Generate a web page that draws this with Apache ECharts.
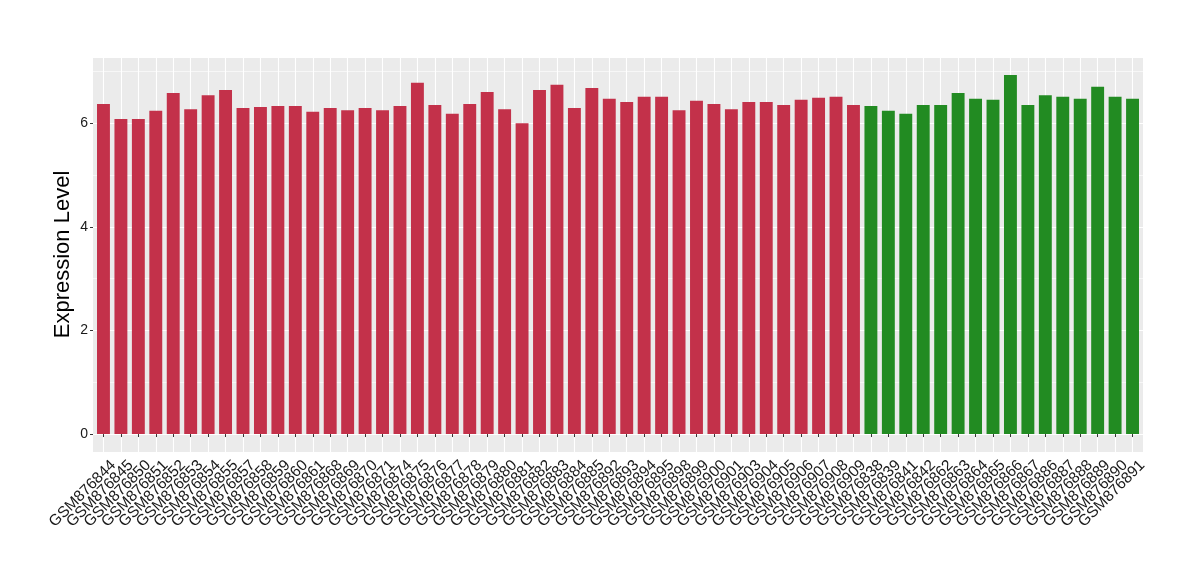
<!DOCTYPE html>
<html><head><meta charset="utf-8">
<script src="https://cdn.jsdelivr.net/npm/echarts@6/dist/echarts.min.js"></script>
<style>html,body{margin:0;padding:0;background:#fff}#c{width:1200px;height:580px}</style>
</head><body><div id="c"></div>
<script>
const categories = ["GSM876844","GSM876845","GSM876850","GSM876851","GSM876852","GSM876853","GSM876854","GSM876855","GSM876857","GSM876858","GSM876859","GSM876860","GSM876861","GSM876868","GSM876869","GSM876870","GSM876871","GSM876874","GSM876875","GSM876876","GSM876877","GSM876878","GSM876879","GSM876880","GSM876881","GSM876882","GSM876883","GSM876884","GSM876885","GSM876892","GSM876893","GSM876894","GSM876895","GSM876898","GSM876899","GSM876900","GSM876901","GSM876903","GSM876904","GSM876905","GSM876906","GSM876907","GSM876908","GSM876909","GSM876838","GSM876839","GSM876841","GSM876842","GSM876862","GSM876863","GSM876864","GSM876865","GSM876866","GSM876867","GSM876886","GSM876887","GSM876888","GSM876889","GSM876890","GSM876891"];
const values = [6.37,6.08,6.08,6.24,6.58,6.27,6.54,6.64,6.29,6.31,6.33,6.33,6.22,6.29,6.25,6.29,6.25,6.33,6.78,6.35,6.18,6.37,6.60,6.27,6.00,6.64,6.74,6.29,6.68,6.47,6.41,6.51,6.51,6.25,6.43,6.37,6.27,6.41,6.41,6.35,6.45,6.49,6.51,6.35,6.33,6.24,6.18,6.35,6.35,6.58,6.47,6.45,6.93,6.35,6.54,6.51,6.47,6.70,6.51,6.47];
const groups = ["red","red","red","red","red","red","red","red","red","red","red","red","red","red","red","red","red","red","red","red","red","red","red","red","red","red","red","red","red","red","red","red","red","red","red","red","red","red","red","red","red","red","red","red","green","green","green","green","green","green","green","green","green","green","green","green","green","green","green","green"];
const groupColors = {red:"#C3314A", green:"#228B22"};
const yTicks = [0,2,4,6];

// ggplot-like expansion: 5% of data range on continuous axis, 0.6 units on discrete axis
const dataMax = Math.max(...values);
const yMin = -0.05*dataMax, yMax = dataMax*1.05;
const panel = {left:93, right:57, top:57, bottom:128};
const unitPx = (1200 - panel.left - panel.right) / (categories.length - 1 + 1.2);
const inset = 0.1*unitPx;

const chart = echarts.init(document.getElementById('c'), null, {renderer:'canvas'});
const font = "Liberation Sans";
chart.setOption({
  animation:false,
  backgroundColor:'#fff',
  grid:[
    {left:panel.left,right:panel.right,top:panel.top,bottom:panel.bottom,show:true,backgroundColor:'#EBEBEB',borderWidth:0},
    {left:panel.left+inset,right:panel.right+inset,top:panel.top,bottom:panel.bottom,show:false}
  ],
  xAxis:[
    {type:'value',gridIndex:0,show:false,min:0,max:1},
    {type:'category',gridIndex:1,data:categories,
    axisLine:{show:false},
    axisTick:{show:true,alignWithLabel:true,length:3,lineStyle:{color:'#333',width:1}},
    splitLine:{show:true,alignWithLabel:true,lineStyle:{color:'#fff',width:1.1}},
    axisLabel:{rotate:45,fontFamily:font,fontSize:15.5,color:'#1a1a1a',margin:1,interval:0,verticalAlign:'top',padding:[6,0,0,0]}
  }],
  yAxis:[{type:'value',gridIndex:0,min:yMin,max:yMax,splitNumber:4,
    name:'Expression Level',nameLocation:'middle',nameGap:19,nameMoveOverlap:false,
    nameTextStyle:{fontFamily:font,fontSize:22,color:'#000'},
    axisLine:{show:false},
    axisTick:{show:true,length:3,lineStyle:{color:'#333'}},
    axisLabel:{fontFamily:font,fontSize:14,color:'#1a1a1a',margin:5,showMaxLabel:false,showMinLabel:false,
      formatter:v=>yTicks.includes(v)?String(v):''},
    splitLine:{show:true,lineStyle:{color:'#fff',width:1.1}}
  },{type:'value',gridIndex:0,min:yMin,max:yMax,splitNumber:8,position:'left',
    axisLine:{show:false},axisTick:{show:false},axisLabel:{show:false},
    splitLine:{show:true,lineStyle:{color:'#fff',width:0.6}}
  },{type:'value',gridIndex:1,min:yMin,max:yMax,show:false,splitLine:{show:false}}],
  series:[{type:'bar',xAxisIndex:1,yAxisIndex:2,barWidth:'74%',
    data:values.map((v,i)=>({value:v,itemStyle:{color:groupColors[groups[i]]}}))
  }]
});
</script></body></html>
